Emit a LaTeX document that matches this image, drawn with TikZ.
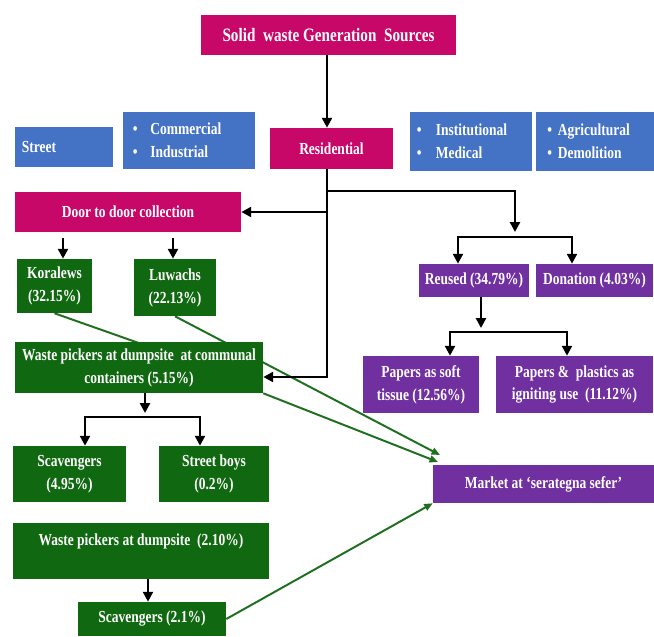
\documentclass[tikz,border=0pt]{standalone}
\usepackage{fontspec}
\newfontfamily\condfont{Liberation Serif}[FakeStretch=0.8]
\usetikzlibrary{arrows.meta,positioning,backgrounds}
\definecolor{wpink}{RGB}{200,8,104}
\definecolor{wblue}{RGB}{68,114,196}
\definecolor{wgreen}{RGB}{16,104,16}
\definecolor{wpurple}{RGB}{112,48,160}
\definecolor{gline}{RGB}{30,112,30}

\begin{document}
\begin{tikzpicture}[x=0.025cm, y=-0.025cm,
		font=\condfont\bfseries\fontsize{12}{16.3}\selectfont,
		box/.style={fill=#1, text=white, inner sep=0pt, align=center},
		sz/.style 2 args={minimum width=#1*0.025cm, minimum height=#2*0.025cm},
		arr/.style={-{Triangle[length=7pt,width=7pt]}, line width=1.8pt},
		garr/.style={-{Triangle[length=6pt,width=5pt]}, draw=gline, line width=1.4pt},
		gline/.style={draw=gline, line width=1.4pt}]
		\useasboundingbox (0,0) rectangle (654,637);
		% top: sources
		\node[box=wpink, sz={255}{40}, font=\condfont\bfseries\fontsize{13.5}{16}\selectfont] (title) at (328.5,35) {Solid\ \ waste Generation\ \ Sources};
		\node[box=wblue, sz={98}{40}, align=left, text width=2.1cm, inner xsep=0.175cm] (street) at (64,147) {Street};
		\node[box=wblue, sz={132}{57}, align=left, text width=2.8cm, inner xsep=0.25cm] (comm) at (189,140.5) {\textbullet\hspace{9pt}Commercial\\\textbullet\hspace{9pt}Industrial};
		\node[box=wpink, sz={123}{41}] (res) at (331.5,148.5) {Residential};
		\node[box=wblue, sz={122}{59}, align=left, text width=2.7cm, inner xsep=0.175cm] (inst) at (471,141.5) {\textbullet\hspace{10pt}Institutional\\\textbullet\hspace{10pt}Medical};
		\node[box=wblue, sz={111}{59}, align=left, text width=2.45cm, inner xsep=0.275cm] (agri) at (596.5,141.5) {\textbullet\hspace{4pt}Agricultural\\\textbullet\hspace{4pt}Demolition};
		% left branch: collection
		\node[box=wpink, sz={226}{40}] (door) at (128,212) {Door to door collection};
		\node[box=wgreen, sz={75}{54}] (kor) at (54.5,286) {Koralews\\(32.15\%)};
		\node[box=wgreen, sz={82}{57}] (luw) at (175,287.5) {Luwachs\\(22.13\%)};
		\node[box=wgreen, sz={248}{51}] (wcomm) at (139,367.5) {Waste pickers at dumpsite\ \ at communal\\containers (5.15\%)};
		\node[box=wgreen, sz={113}{56}] (scav) at (69.5,474) {Scavengers\\(4.95\%)};
		\node[box=wgreen, sz={110}{56}] (boys) at (214,474) {Street boys\\(0.2\%)};
		\node[box=wgreen, sz={256}{56}] (wdump) at (141,551) {Waste pickers at dumpsite\ \ (2.10\%)\\\mbox{}};
		\node[box=wgreen, sz={148}{34}] (scav2) at (152,619) {Scavengers (2.1\%)};
		% right branch: reuse
		\node[box=wpurple, sz={110}{33}] (reused) at (474,280.5) {Reused (34.79\%)};
		\node[box=wpurple, sz={117}{33}] (don) at (594.5,280.5) {Donation (4.03\%)};
		\node[box=wpurple, sz={116}{57}] (tissue) at (421,384.5) {Papers as soft\\tissue (12.56\%)};
		\node[box=wpurple, sz={157}{57}] (ignite) at (574.5,384.5) {Papers \&\ \ plastics as\\igniting use\ \ (11.12\%)};
		\node[box=wpurple, sz={221}{38}] (market) at (543.5,484) {Market at ‘serategna sefer’};
		% junction points
		\coordinate (s1) at (327,191);
		\coordinate (s2) at (327,212);
		\coordinate (s3) at (327,377);
		\coordinate (rtop) at (515,232);
		\coordinate (b1) at (515,237);
		\coordinate (rdn) at (481,328);
		\coordinate (b2) at (481,332);
		\coordinate (wdn) at (145,413);
		\coordinate (b3) at (145,417);
		\coordinate (k0) at (63,238);
		\coordinate (l0) at (173,238);
		\coordinate (d0) at (148,579);
		% black connectors
		\draw[arr] (s1 |- title.south) -- (s1 |- res.north);
		\draw[arr] (s1 |- res.south) -- (s3) -- (s3 -| wcomm.east);
		\draw[arr] (s2) -- (door.east);
		\draw[arr] (s1) -| (rtop);
		\draw[arr] (b1) -| ([xshift=-0.4cm]reused.north);
		\draw[arr] (b1) -| ([xshift=-0.5625cm]don.north);
		\draw[arr] (reused.south -| b2) -- (rdn);
		\draw[arr] (b2) -| ([xshift=0.725cm]tissue.north);
		\draw[arr] (b2) -| ([xshift=-0.1875cm]ignite.north);
		\draw[arr] (k0) -- (k0 |- kor.north);
		\draw[arr] (l0) -- (l0 |- luw.north);
		\draw[arr] (wcomm.south -| b3) -- (wdn);
		\draw[arr] (b3) -| ([xshift=0.3875cm]scav.north);
		\draw[arr] (b3) -| ([xshift=-0.35cm]boys.north);
		\draw[arr] (d0) -- (d0 |- scav2.north);
		% green links to the market
		\begin{pgfonlayer}{background}
			\coordinate (k1) at (150,347);
			\coordinate (m1) at (440,455);
			\coordinate (m2) at (438,462);
			\draw[gline] (kor.south) -- (k1);
			\draw[garr] (luw.south) -- (m1);
			\draw[garr] (wcomm.south east) -- (m2);
			\draw[garr] (scav2.east) -- (market.south west);
		\end{pgfonlayer}
	\end{tikzpicture}
\end{document}
